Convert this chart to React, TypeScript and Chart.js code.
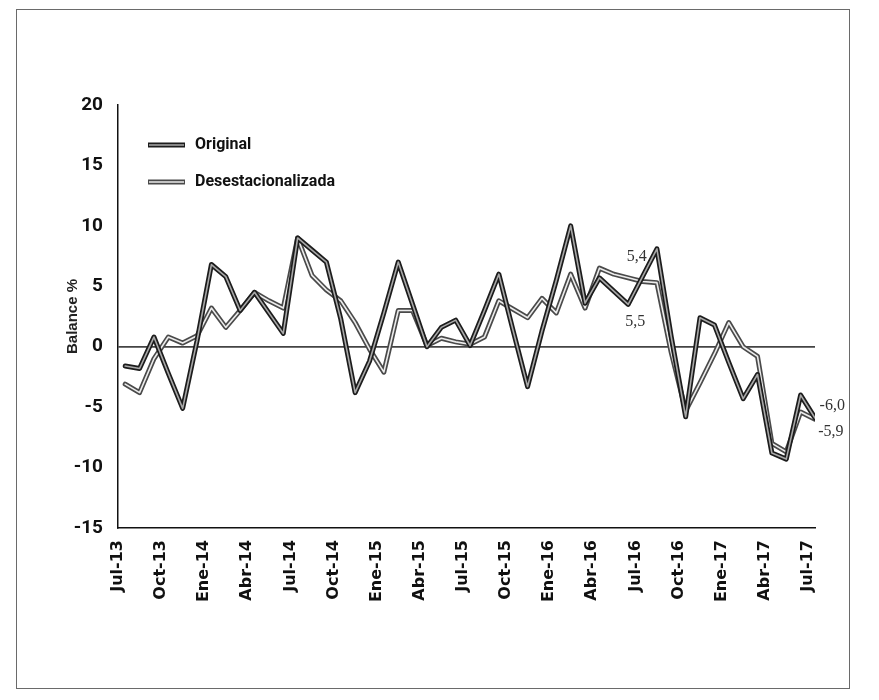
import React, { useEffect, useRef } from "react";
import { Chart, registerables } from "chart.js";
Chart.register(...registerables);

// Quarterly tick labels (every 3 months, Jul-13 .. Jul-17)
const tickLabels = [
  "Jul-13", "Oct-13", "Ene-14", "Abr-14", "Jul-14", "Oct-14", "Ene-15", "Abr-15",
  "Jul-15", "Oct-15", "Ene-16", "Abr-16", "Jul-16", "Oct-16", "Ene-17", "Abr-17", "Jul-17",
];

// Monthly values Jul-13 .. Jul-17 (49 months)
const original = [
  -1.6, -1.8, 0.8, -2.2, -5.1, 0.5, 6.8, 5.8, 3.0, 4.5, 2.8, 1.1,
  9.0, 8.0, 7.0, 2.3, -3.8, -1.2, 2.8, 7.0, 3.5, 0.0, 1.6, 2.2,
  0.1, 3.0, 6.0, 1.3, -3.3, 1.3, 5.5, 10.0, 3.6, 5.7, 4.6, 3.5,
  5.8, 8.1, 0.8, -5.8, 2.4, 1.8, -1.3, -4.3, -2.3, -8.8, -9.3, -4.0,
  -5.9,
];

const desestacionalizada = [
  -3.1, -3.8, -1.0, 0.8, 0.3, 0.9, 3.2, 1.6, 3.0, 4.5, 3.8, 3.2,
  9.0, 5.9, 4.7, 3.8, 2.0, -0.2, -2.1, 3.0, 3.0, 0.1, 0.7, 0.4,
  0.2, 0.8, 3.8, 3.1, 2.4, 4.0, 2.8, 6.0, 3.2, 6.5, 6.0, 5.7,
  5.4, 5.3, -0.5, -5.3, -3.0, -0.6, 2.0, 0.0, -0.8, -8.0, -8.7, -5.4,
  -6.0,
];

const seriesNames = ["Original", "Desestacionalizada"];

// Value annotations (text, month index, value)
const noteTexts = ["5,4", "5,5", "-6,0", "-5,9"];
const noteMonth = [35.6, 35.5, 49.2, 49.1];
const noteValue = [7.4, 2.05, -4.9, -7.0];

const toPoints = (arr: number[]) => arr.map((v, i) => ({ x: i, y: v }));

const STYLE = [
  { outer: "#1c1c1c", inner: "#a8a8a8" },
  { outer: "#4a4a4a", inner: "#ececec" },
];

export default function App() {
  const ref = useRef<HTMLCanvasElement | null>(null);

  useEffect(() => {
    if (!ref.current) return;

    const legendPlugin = {
      id: "insideLegend",
      afterDraw(chart: any) {
        const ctx = chart.ctx;
        const ca = chart.chartArea;
        ctx.save();
        seriesNames.forEach((name, k) => {
          const y = ca.top + 40 + k * 37;
          const x0 = ca.left + 30;
          ctx.lineCap = "butt";
          ctx.strokeStyle = STYLE[k].outer;
          ctx.lineWidth = 5;
          ctx.beginPath();
          ctx.moveTo(x0, y);
          ctx.lineTo(x0 + 37, y);
          ctx.stroke();
          ctx.strokeStyle = STYLE[k].inner;
          ctx.lineWidth = 1.5;
          ctx.beginPath();
          ctx.moveTo(x0 + 1, y);
          ctx.lineTo(x0 + 36, y);
          ctx.stroke();
          ctx.fillStyle = "#111";
          ctx.font = "bold 16px Roboto, sans-serif";
          ctx.textAlign = "left";
          ctx.textBaseline = "middle";
          ctx.fillText(name, x0 + 47, y);
        });
        ctx.restore();
      },
    };

    const notePlugin = {
      id: "notes",
      afterDraw(chart: any) {
        const ctx = chart.ctx;
        const xs = chart.scales.x;
        const ys = chart.scales.y;
        ctx.save();
        ctx.fillStyle = "#333";
        ctx.font = "16px 'Liberation Serif', serif";
        ctx.textAlign = "center";
        ctx.textBaseline = "middle";
        noteTexts.forEach((t, k) => {
          ctx.fillText(t, xs.getPixelForValue(noteMonth[k]), ys.getPixelForValue(noteValue[k]));
        });
        ctx.restore();
      },
    };

    const mk = (label: string, data: number[], color: string, width: number, order: number) => ({
      label,
      data: toPoints(data),
      borderColor: color,
      backgroundColor: color,
      borderWidth: width,
      pointRadius: 0,
      tension: 0,
      fill: false,
      order,
      borderJoinStyle: "round" as const,
      borderCapStyle: "round" as const,
    });

    const chart = new Chart(ref.current, {
      type: "line",
      data: {
        datasets: [
          mk(seriesNames[1], desestacionalizada, STYLE[1].outer, 5, 4),
          mk(seriesNames[1] + " ", desestacionalizada, STYLE[1].inner, 1.6, 3),
          mk(seriesNames[0], original, STYLE[0].outer, 5, 2),
          mk(seriesNames[0] + " ", original, STYLE[0].inner, 1.6, 1),
        ],
      },
      options: {
        responsive: false,
        animation: false,
        events: [],
        layout: { padding: { left: 60, top: 105, right: 64, bottom: 0 } },
        plugins: { legend: { display: false }, tooltip: { enabled: false } },
        scales: {
          x: {
            type: "linear",
            min: -0.5,
            max: 48,
            grid: { display: false, drawTicks: false },
            border: { display: true, color: "#111", width: 1.5 },
            afterBuildTicks: (scale: any) => {
              scale.ticks = tickLabels.map((_, k) => ({ value: k * 3 - 0.5 }));
            },
            afterFit: (scale: any) => {
              scale.height = 700 - 528;
            },
            ticks: {
              autoSkip: false,
              maxRotation: 90,
              minRotation: 90,
              padding: 12,
              color: "#111",
              font: { family: "'DejaVu Sans', sans-serif", size: 16, weight: "bold" },
              callback: (value: any) => tickLabels[Math.round((Number(value) + 0.5) / 3)] ?? "",
            },
          },
          y: {
            min: -15,
            max: 20,
            afterFit: (scale: any) => {
              scale.width = 58;
            },
            ticks: {
              stepSize: 5,
              padding: 15,
              color: "#111",
              font: { family: "Roboto, sans-serif", size: 19, weight: "bold" },
            },
            grid: {
              drawTicks: false,
              color: (c: any) => (c.tick && c.tick.value === 0 ? "#444" : "rgba(0,0,0,0)"),
              lineWidth: 1.8,
            },
            border: { display: true, color: "#111", width: 1.5 },
            title: {
              display: true,
              text: "Balance %",
              color: "#222",
              font: { family: "'Liberation Sans', Arial, sans-serif", size: 15, weight: "bold" },
            },
          },
        },
      },
      plugins: [legendPlugin, notePlugin],
    });
    return () => chart.destroy();
  }, []);

  return (
    <div style={{ position: "absolute", left: 0, top: 0, width: 879, height: 700, background: "#fff" }}>
      <canvas ref={ref} width={879} height={700} style={{ position: "absolute", left: 0, top: 0 }} />
      <div
        style={{
          position: "absolute",
          left: 16,
          top: 9,
          width: 832,
          height: 678,
          border: "1px solid #6a6a6a",
          pointerEvents: "none",
        }}
      />
    </div>
  );
}
